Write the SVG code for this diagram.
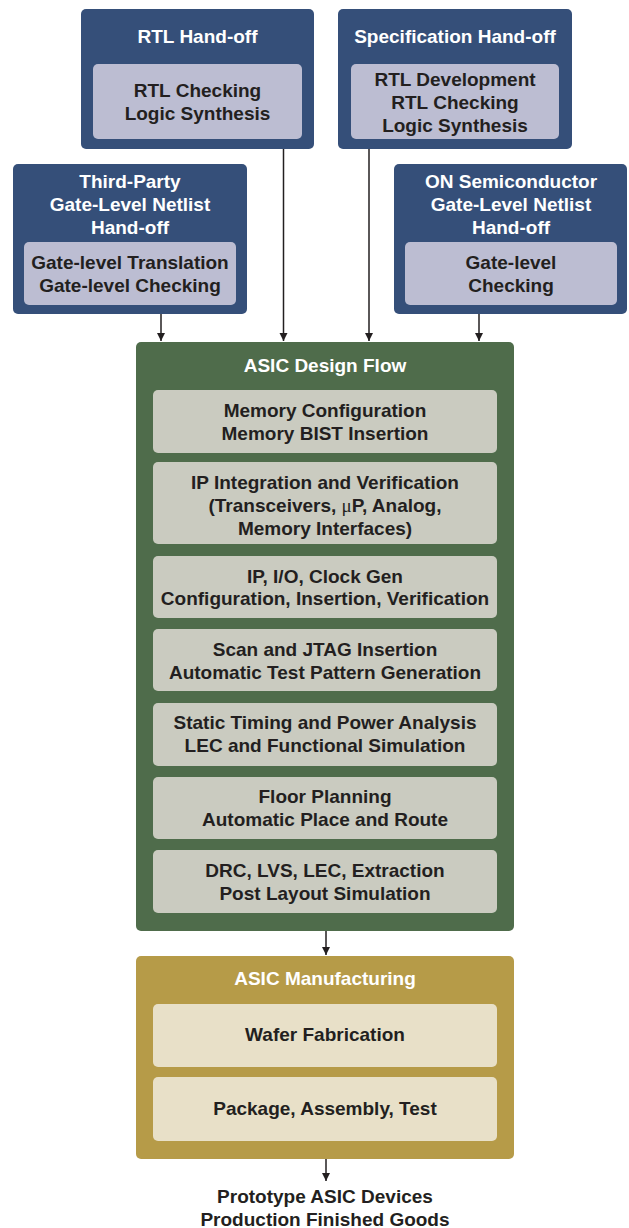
<svg xmlns="http://www.w3.org/2000/svg" width="629" height="1228" viewBox="0 0 629 1228">
<style>
text{font-family:"Liberation Sans",Arial,sans-serif;font-weight:bold;font-size:19px;text-anchor:middle}
.hw{fill:#ffffff}
.dk{fill:#231f20}
.blue{fill:#354f79}
.lav{fill:#bcbdd2}
.green{fill:#4f6c4b}
.gray{fill:#cacbc0}
.gold{fill:#b69b48}
.cream{fill:#e8e0c8}
.conn{stroke:#231f20;stroke-width:1.5;fill:none;marker-end:url(#ah)}
</style>
<defs>
<marker id="ah" viewBox="0 0 10 10" refX="10" refY="5" markerWidth="8" markerHeight="10" markerUnits="userSpaceOnUse" orient="auto">
<path d="M0,0 L10,5 L0,10 z" fill="#231f20"/>
</marker>
</defs>
<rect width="629" height="1228" fill="#ffffff"/>

<g id="rtl-handoff">
<rect class="blue" x="81" y="9" width="233" height="140" rx="5"/>
<text class="hw" x="197.5" y="43">RTL Hand-off</text>
<rect class="lav" x="93" y="64" width="209" height="75" rx="5"/>
<text class="dk" x="197.5" y="97">RTL Checking</text>
<text class="dk" x="197.5" y="120">Logic Synthesis</text>
</g>

<g id="spec-handoff">
<rect class="blue" x="338" y="9" width="234" height="140" rx="5"/>
<text class="hw" x="455" y="43">Specification Hand-off</text>
<rect class="lav" x="351" y="64" width="208" height="75" rx="5"/>
<text class="dk" x="455" y="86">RTL Development</text>
<text class="dk" x="455" y="109">RTL Checking</text>
<text class="dk" x="455" y="132">Logic Synthesis</text>
</g>

<g id="third-party">
<rect class="blue" x="13" y="164" width="234" height="150" rx="5"/>
<text class="hw" x="130" y="188">Third-Party</text>
<text class="hw" x="130" y="211">Gate-Level Netlist</text>
<text class="hw" x="130" y="234">Hand-off</text>
<rect class="lav" x="24" y="242" width="212" height="63" rx="5"/>
<text class="dk" x="130" y="269">Gate-level Translation</text>
<text class="dk" x="130" y="292">Gate-level Checking</text>
</g>

<g id="on-semi">
<rect class="blue" x="394" y="164" width="233" height="150" rx="5"/>
<text class="hw" x="511" y="188">ON Semiconductor</text>
<text class="hw" x="511" y="211">Gate-Level Netlist</text>
<text class="hw" x="511" y="234">Hand-off</text>
<rect class="lav" x="405" y="242" width="212" height="63" rx="5"/>
<text class="dk" x="511" y="269">Gate-level</text>
<text class="dk" x="511" y="292">Checking</text>
</g>

<g id="design-flow">
<rect class="green" x="136" y="342" width="378" height="589" rx="5"/>
<text class="hw" x="325" y="372">ASIC Design Flow</text>
<rect class="gray" x="153" y="390" width="344" height="63" rx="5"/>
<text class="dk" x="325" y="417">Memory Configuration</text>
<text class="dk" x="325" y="440">Memory BIST Insertion</text>
<rect class="gray" x="153" y="462" width="344" height="82" rx="5"/>
<text class="dk" x="325" y="489">IP Integration and Verification</text>
<text class="dk" x="325" y="512">(Transceivers, <tspan font-family="'Liberation Serif',serif" font-weight="normal">μ</tspan>P, Analog,</text>
<text class="dk" x="325" y="535">Memory Interfaces)</text>
<rect class="gray" x="153" y="556" width="344" height="62" rx="5"/>
<text class="dk" x="325" y="583">IP, I/O, Clock Gen</text>
<text class="dk" x="325" y="605">Configuration, Insertion, Verification</text>
<rect class="gray" x="153" y="629" width="344" height="62" rx="5"/>
<text class="dk" x="325" y="656">Scan and JTAG Insertion</text>
<text class="dk" x="325" y="679">Automatic Test Pattern Generation</text>
<rect class="gray" x="153" y="703" width="344" height="63" rx="5"/>
<text class="dk" x="325" y="729">Static Timing and Power Analysis</text>
<text class="dk" x="325" y="752">LEC and Functional Simulation</text>
<rect class="gray" x="153" y="777" width="344" height="62" rx="5"/>
<text class="dk" x="325" y="803">Floor Planning</text>
<text class="dk" x="325" y="826">Automatic Place and Route</text>
<rect class="gray" x="153" y="850" width="344" height="63" rx="5"/>
<text class="dk" x="325" y="877">DRC, LVS, LEC, Extraction</text>
<text class="dk" x="325" y="900">Post Layout Simulation</text>
</g>

<g id="manufacturing">
<rect class="gold" x="136" y="956" width="378" height="203" rx="5"/>
<text class="hw" x="325" y="985">ASIC Manufacturing</text>
<rect class="cream" x="153" y="1004" width="344" height="63" rx="5"/>
<text class="dk" x="325" y="1041">Wafer Fabrication</text>
<rect class="cream" x="153" y="1077" width="344" height="64" rx="5"/>
<text class="dk" x="325" y="1115">Package, Assembly, Test</text>
</g>

<g id="output">
<text class="dk" x="325" y="1203">Prototype ASIC Devices</text>
<text class="dk" x="325" y="1226">Production Finished Goods</text>
</g>

<g id="connectors">
<line class="conn" x1="161" y1="314" x2="161" y2="341"/>
<line class="conn" x1="283.5" y1="149" x2="283.5" y2="341"/>
<line class="conn" x1="369" y1="149" x2="369" y2="341"/>
<line class="conn" x1="479" y1="314" x2="479" y2="341"/>
<line class="conn" x1="326" y1="931" x2="326" y2="955"/>
<line class="conn" x1="326" y1="1159" x2="326" y2="1181"/>
</g>
</svg>
